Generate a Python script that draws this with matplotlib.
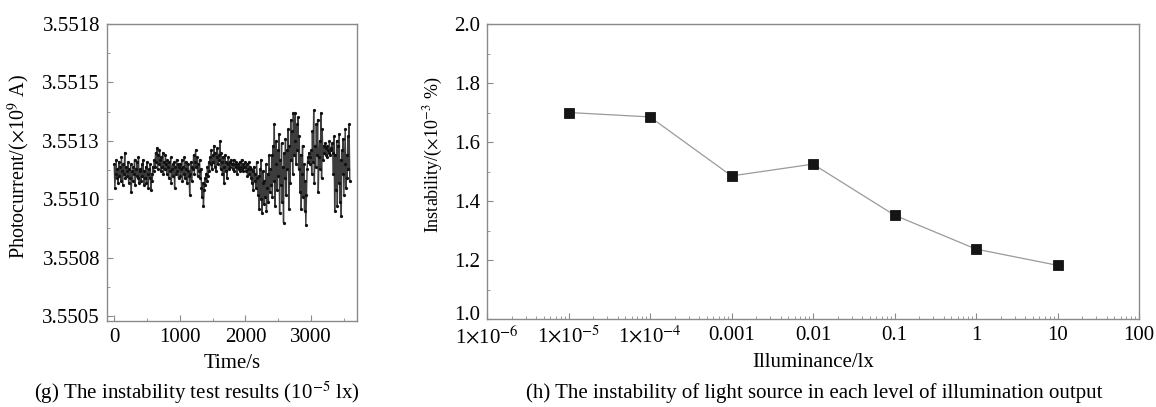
import numpy as np
import matplotlib
matplotlib.use("Agg")
import matplotlib.pyplot as plt
from matplotlib.ticker import FixedLocator, NullFormatter, LogLocator
from matplotlib.transforms import ScaledTranslation

plt.rcParams['font.family'] = ['Liberation Serif', 'DejaVu Serif']
plt.rcParams['mathtext.fontset'] = 'stix'

# (g) photocurrent readings, sampled every 10 s
# stored as offset above 3.5510 in units of 1e-5 (x10^9 A)
sample_step_s = 10
photocurrent_base = 3.5510
photocurrent_offset = [
    15, 5, 11, 17, 9, 13, 7, 16, 10, 14, 8, 18, 12, 6, 15, 11, 20, 9, 14, 12,
    10, 16, 7, 13, 9, 15, 3, 12, 8, 14, 11, 17, 6, 13, 10, 16, 9, 18, 7, 12,
    13, 8, 15, 10, 17, 6, 12, 9, 14, 7, 16, 11, 5, 13, 9, 15, 4, 11, 8, 14,
    12, 17, 14, 20, 16, 22, 13, 19, 15, 21, 17, 12, 18, 14, 20, 11, 16, 13, 19, 15,
    11, 17, 14, 9, 16, 12, 18, 7, 13, 15, 10, 16, 5, 14, 11, 17, 12, 15, 9, 14,
    15, 10, 13, 17, 8, 14, 11, 18, 9, 13, 16, 7, 12, 15, 10, 2, 11, 16, 8, 14,
    13, 19, 11, 16, 21, 14, 18, 10, 15, 12, 17, 9, 13, 5, 1, 7, -3, 4, 9, 6,
    11, 8, 14, 10, 16, 12, 18, 15, 21, 13, 19, 16, 23, 14, 20, 12, 18, 22, 15, 19,
    17, 25, 13, 20, 16, 11, 18, 7, 14, 19, 12, 16, 9, 15, 18, 13, 16, 14, 17, 15,
    15, 13, 17, 12, 15, 14, 16, 11, 14, 15, 13, 16, 12, 14, 17, 13, 15, 12, 14, 16,
    14, 12, 15, 10, 13, 16, 11, 14, 9, 13, 7, 12, 4, 14, 8, 11, 5, 16, 9, 2,
    10, -4, 13, 0, 17, -6, 7, 12, -2, 8, 1, 15, -5, 5, 11, -1, 19, 3, 13, 6,
    19, 1, 23, 8, 32, -3, 15, 25, 4, 21, 10, 28, -6, 17, 6, 24, -1, 14, -10, 20,
    9, 26, 2, 21, 13, 30, -4, 23, 7, 34, 17, 29, 11, 37, 19, 25, 37, 15, 32, 21,
    35, 13, 27, 3, 19, -4, 11, 23, 1, 15, -5, 8, -11, 2, 13, 18, 16, 20, 15, 18,
    21, 11, 29, 16, 38, 7, 23, 14, 32, 19, 34, 3, 18, 25, 13, 37, 9, 30, 17, 23,
    20, 24, 19, 22, 18, 23, 21, 20, 25, 19, 22, 21, 24, 20, 11, 27, -5, 19, 4, 25,
    -3, 23, 7, 28, -1, 17, -7, 21, 11, 26, 2, 15, 30, 5, 19, 9, 27, 13, 32, 8,
]
g_yticks = [3.5505, 3.55075, 3.5510, 3.55125, 3.5515, 3.55175]
g_yticklabels = ['3.5505', '3.5508', '3.5510', '3.5513', '3.5515', '3.5518']
g_xticks = [0, 1000, 2000, 3000]

# (h) instability vs illuminance
illuminance = [1e-5, 1e-4, 1e-3, 1e-2, 1e-1, 1, 10]
instability = [1.700, 1.685, 1.485, 1.525, 1.352, 1.237, 1.182]
h_xticks = [1e-6, 1e-5, 1e-4, 1e-3, 1e-2, 1e-1, 1, 10, 100]
h_xticklabels = [r'1$\times$10$^{-6}$', r'1$\times$10$^{-5}$', r'1$\times$10$^{-4}$',
                 '0.001', '0.01', '0.1', '1', '10', '100']
h_yticks = [1.0, 1.2, 1.4, 1.6, 1.8, 2.0]

spine_col = '#8a8a8a'

fig = plt.figure(figsize=(11.56, 4.07), dpi=100)
ax1 = fig.add_axes([107 / 1156, 1 - 321 / 407, 250 / 1156, 297 / 407])
ax2 = fig.add_axes([487 / 1156, 1 - 319 / 407, 652 / 1156, 295 / 407])

for ax in (ax1, ax2):
    for sp in ax.spines.values():
        sp.set_color(spine_col)
        sp.set_linewidth(1.0)
    ax.tick_params(which='both', direction='in', color=spine_col, top=False, right=False,
                   labelsize=15)
    ax.tick_params(axis='y', pad=5)
    ax.tick_params(axis='x', pad=5)
    ax.tick_params(which='major', length=4)
    ax.tick_params(which='minor', length=2.5)

# ---- (g)
t = np.arange(len(photocurrent_offset)) * sample_step_s
current = photocurrent_base + np.array(photocurrent_offset) * 1e-5
ax1.plot(t, current, color='#3c3c3c', lw=1.0, marker='.', ms=2.6,
         mfc='#111111', mec='#111111')
ax1.set_xlim(-110, 3700)
ax1.set_ylim(3.550479, 3.55175)
ax1.yaxis.set_major_locator(FixedLocator(g_yticks))
ax1.set_yticklabels(g_yticklabels)
ax1.yaxis.set_minor_locator(FixedLocator([v + 0.000125 for v in g_yticks[:-1]]))
ax1.xaxis.set_major_locator(FixedLocator(g_xticks))
ax1.xaxis.set_minor_locator(FixedLocator([500, 1500, 2500, 3500]))
ax1.set_xlabel('Time/s', fontsize=15, labelpad=5)
ax1.set_ylabel(r'Photocurrent/($\times$10$^{9}$ A)', fontsize=14.5)
ax1.yaxis.set_label_coords(-0.30, 0.52)
fig.text(197 / 1156, 1 - 393 / 407, r'(g) The instability test results (10$^{-5}$ lx)',
         ha='center', va='center', fontsize=15)

# ---- (h)
ax2.plot(illuminance, instability, color='#9a9a9a', lw=0.9, marker='s', ms=7,
         mfc='#151515', mec='#151515', mew=0.6)
ax2.set_xscale('log')
ax2.set_xlim(1e-6, 100)
ax2.set_ylim(1.0, 2.0)
ax2.xaxis.set_major_locator(FixedLocator(h_xticks))
ax2.set_xticklabels(h_xticklabels)
ax2.xaxis.set_minor_locator(LogLocator(base=10, subs=np.arange(2, 10), numticks=20))
ax2.xaxis.set_minor_formatter(NullFormatter())
ax2.yaxis.set_major_locator(FixedLocator(h_yticks))
ax2.set_yticklabels([f'{v:.1f}' for v in h_yticks])
ax2.yaxis.set_minor_locator(FixedLocator([1.1, 1.3, 1.5, 1.7, 1.9]))
# the bottom label sits a little higher in the original
lbl = ax2.get_yticklabels()[0]
lbl.set_transform(lbl.get_transform() + ScaledTranslation(0, 4 / 72, fig.dpi_scale_trans))
ax2.set_xlabel('Illuminance/lx', fontsize=15, labelpad=3)
ax2.set_ylabel(r'Instability/($\times$10$^{-3}$ %)', fontsize=13)
ax2.yaxis.set_label_coords(-0.064, 0.555)
fig.text(814 / 1156, 1 - 393 / 407,
         '(h) The instability of light source in each level of illumination output',
         ha='center', va='center', fontsize=15)

fig.savefig('out.png', dpi=100)
